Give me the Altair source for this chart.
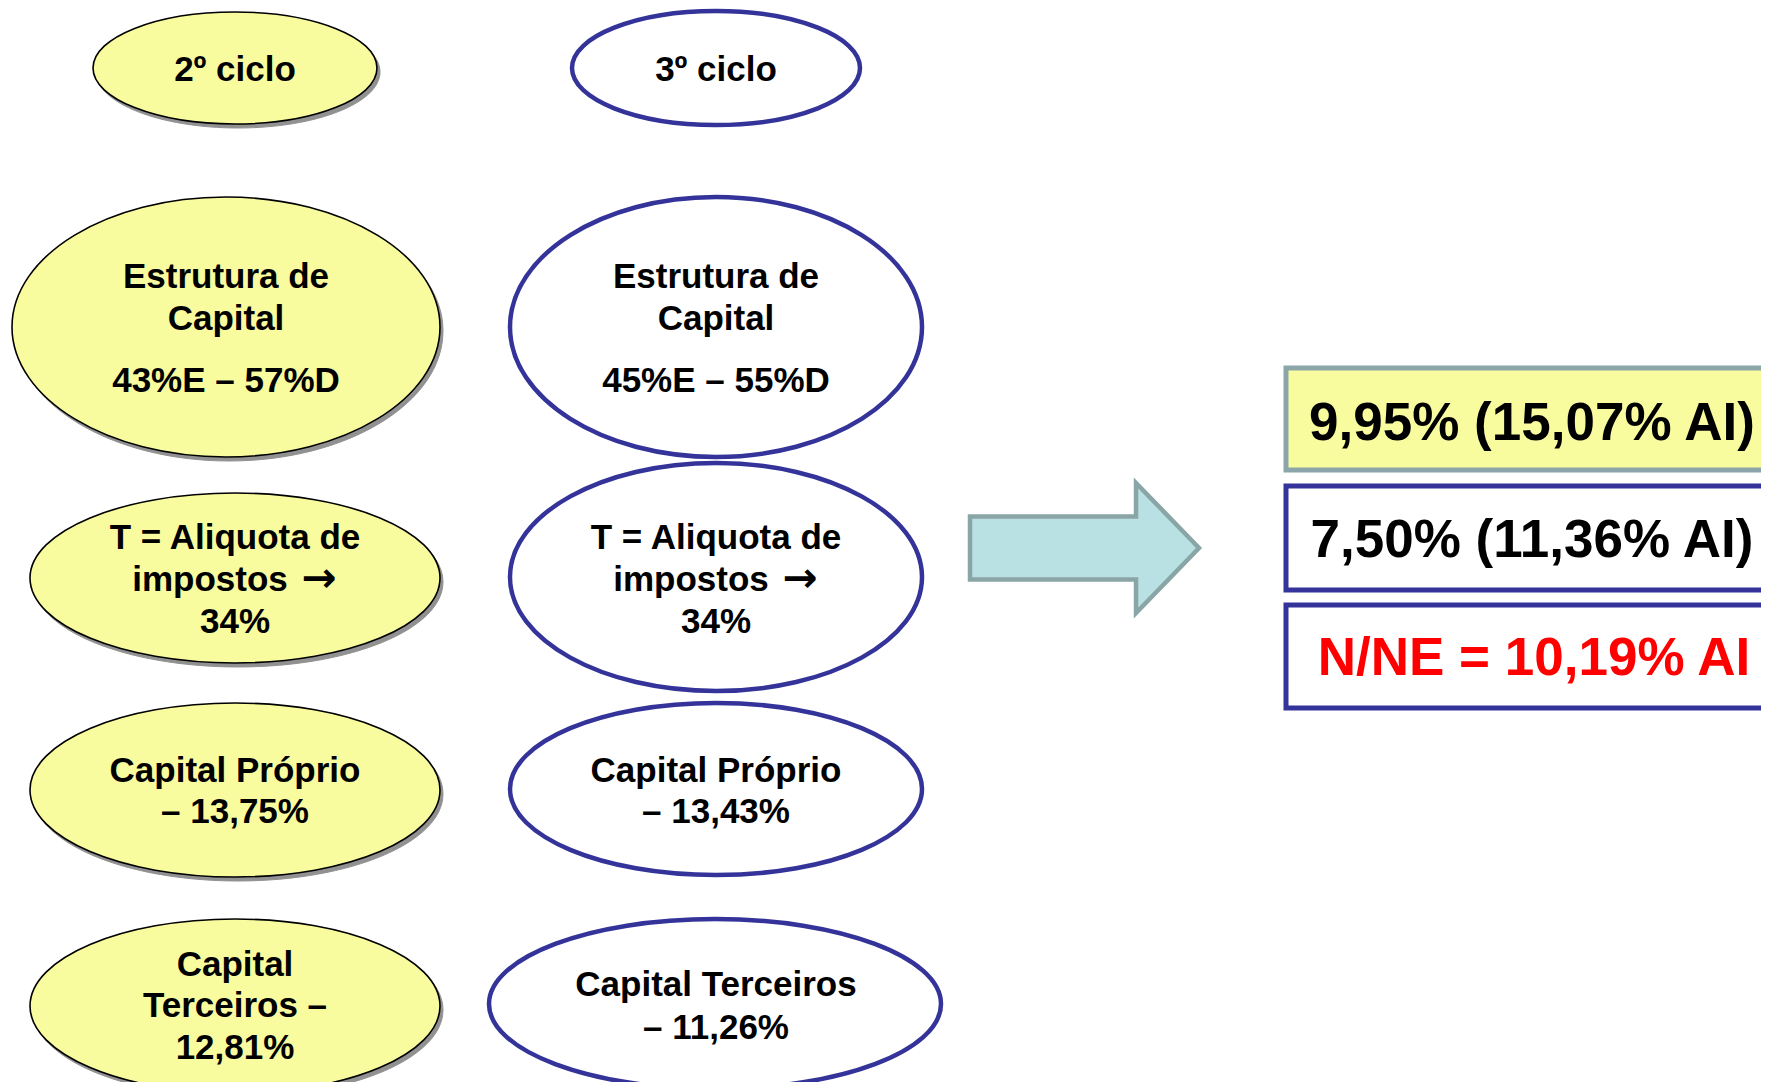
import altair as alt
import pandas as pd

# ---------------- content ----------------
left_lines = ["2º ciclo",
              "Estrutura de", "Capital", "43%E – 57%D",
              "T = Aliquota de", "impostos", "34%",
              "Capital Próprio", "– 13,75%",
              "Capital", "Terceiros –", "12,81%"]
right_lines = ["3º ciclo",
               "Estrutura de", "Capital", "45%E – 55%D",
               "T = Aliquota de", "impostos", "34%",
               "Capital Próprio", "– 13,43%",
               "Capital Terceiros", "– 11,26%"]
arrow_glyphs = ["→", "→"]
result_lines = ["9,95% (15,07% AI)", "7,50% (11,36% AI)", "N/NE = 10,19% AI"]
result_text_colors = ["#000000", "#000000", "#FF0000"]

# ---------------- layout (pixel coordinates of the page) ----------------
left_line_x = [235, 226, 226, 226, 235, 210, 235, 235, 235, 235, 235, 235]
left_line_y = [70, 277, 319, 381, 538, 580, 622, 771, 812, 965, 1006, 1048]
right_line_x = [716, 716, 716, 716, 716, 691, 716, 716, 716, 716, 716]
right_line_y = [70, 277, 319, 381, 538, 580, 622, 771, 812, 985, 1028]
arrow_glyph_x = [319, 800]
arrow_glyph_y = [579, 579]

# ellipses: centre x, centre y, radius x, radius y
yellow_cx = [235, 226, 235, 235, 235]
yellow_cy = [68, 327, 578, 790, 1006]
yellow_rx = [142, 214, 205, 205, 205]
yellow_ry = [56, 130, 85, 87, 87]
blue_cx = [716, 716, 716, 716, 715]
blue_cy = [68, 327, 577, 789, 1004]
blue_rx = [144, 206, 206, 206, 226]
blue_ry = [57, 130, 114, 86, 85]

# result boxes
box_x = [1286, 1286, 1286]
box_x2 = [1900, 1900, 1900]
box_y = [368, 486, 605]
box_y2 = [470, 590, 708]
box_fill = ["#F8FB9E", "#FFFFFF", "#FFFFFF"]
box_stroke = ["#8CA5A8", "#333399", "#333399"]
box_text_x = [1532, 1532, 1534]
box_text_y = [424, 541, 659]

# arrow
arrow_cx = [1084.5]
arrow_cy = [548]
arrow_halfwidth = [114.5]

W, H = 1753, 1074
XS = alt.Scale(domain=[8, 8 + W], nice=False, zero=False)
YS = alt.Scale(domain=[8, 8 + H], nice=False, zero=False, reverse=True)


def ellipse_path(k):
    c = 0.5523
    return (f"M1,0 C1,{k*c:.4f} {c},{k:.4f} 0,{k:.4f} "
            f"C{-c},{k:.4f} -1,{k*c:.4f} -1,0 "
            f"C-1,{-k*c:.4f} {-c},{-k:.4f} 0,{-k:.4f} "
            f"C{c},{-k:.4f} 1,{-k*c:.4f} 1,0 Z")


def ell_df(cx, cy, rx, ry):
    return pd.DataFrame({
        "x": cx, "y": cy,
        "path": [ellipse_path(b / a) for a, b in zip(rx, ry)],
        "size": [(2 * a) ** 2 for a in rx],
    })


yellow = ell_df(yellow_cx, yellow_cy, yellow_rx, yellow_ry)
blue = ell_df(blue_cx, blue_cy, blue_rx, blue_ry)


def ell_layer(df, **mk):
    return alt.Chart(df).mark_point(filled=True, opacity=1, fillOpacity=1,
                                    strokeOpacity=1, clip=True, **mk).encode(
        x=alt.X("x:Q", scale=XS, axis=None),
        y=alt.Y("y:Q", scale=YS, axis=None),
        shape=alt.Shape("path:N", scale=None),
        size=alt.Size("size:Q", scale=None),
    )


shadow = ell_layer(yellow, fill="#919191", stroke="#919191", strokeWidth=1).transform_calculate(
    x="datum.x + 3", y="datum.y + 4")
yellow_layer = ell_layer(yellow, fill="#F8FB9E", stroke="#000000", strokeWidth=1.6)
blue_layer = ell_layer(blue, fill="#FFFFFF", stroke="#333399", strokeWidth=4.5)

arrow_path = ("M-1,-0.275 L0.45,-0.275 L0.45,-0.568 L1,0 "
              "L0.45,0.568 L0.45,0.275 L-1,0.275 Z")
arrow_df = pd.DataFrame({"x": arrow_cx, "y": arrow_cy, "path": [arrow_path],
                         "size": [(2 * h) ** 2 for h in arrow_halfwidth]})
arrow_layer = ell_layer(arrow_df, fill="#B9E0E3", stroke="#8AA5A6", strokeWidth=4.5)

box_df = pd.DataFrame({"x": box_x, "x2": box_x2, "y": box_y, "y2": box_y2,
                       "fill": box_fill, "stroke": box_stroke})
box_layer = alt.Chart(box_df).mark_rect(strokeWidth=5, clip=True).encode(
    x=alt.X("x:Q", scale=XS, axis=None), x2="x2:Q",
    y=alt.Y("y:Q", scale=YS, axis=None), y2="y2:Q",
    fill=alt.Fill("fill:N", scale=None),
    stroke=alt.Stroke("stroke:N", scale=None),
)

text_df = pd.DataFrame({
    "t": left_lines + right_lines,
    "x": left_line_x + right_line_x,
    "y": left_line_y + right_line_y,
})
text_layer = alt.Chart(text_df).mark_text(
    font="Liberation Sans", fontWeight="bold", fontSize=35,
    align="center", baseline="middle", color="#000000", clip=True
).encode(
    x=alt.X("x:Q", scale=XS, axis=None),
    y=alt.Y("y:Q", scale=YS, axis=None),
    text="t:N",
)

glyph_df = pd.DataFrame({"t": arrow_glyphs, "x": arrow_glyph_x, "y": arrow_glyph_y})
glyph_layer = alt.Chart(glyph_df).mark_text(
    font="DejaVu Sans", fontWeight="bold", fontSize=42,
    align="center", baseline="middle", color="#000000", clip=True
).encode(
    x=alt.X("x:Q", scale=XS, axis=None),
    y=alt.Y("y:Q", scale=YS, axis=None),
    text="t:N",
)

res_df = pd.DataFrame({"t": result_lines, "x": box_text_x, "y": box_text_y,
                       "c": result_text_colors})
res_layer = alt.Chart(res_df).mark_text(
    font="Liberation Sans", fontWeight="bold", fontSize=53,
    align="center", baseline="middle", clip=True
).encode(
    x=alt.X("x:Q", scale=XS, axis=None),
    y=alt.Y("y:Q", scale=YS, axis=None),
    text="t:N",
    color=alt.Color("c:N", scale=None),
)

chart = alt.layer(shadow, yellow_layer, blue_layer, arrow_layer, box_layer,
                  text_layer, glyph_layer, res_layer).properties(
    width=W, height=H, padding=0, autosize="none", background="#FFFFFF"
).configure_view(stroke=None)

chart.save("out.html", embed_options={"renderer": "svg", "actions": False})
